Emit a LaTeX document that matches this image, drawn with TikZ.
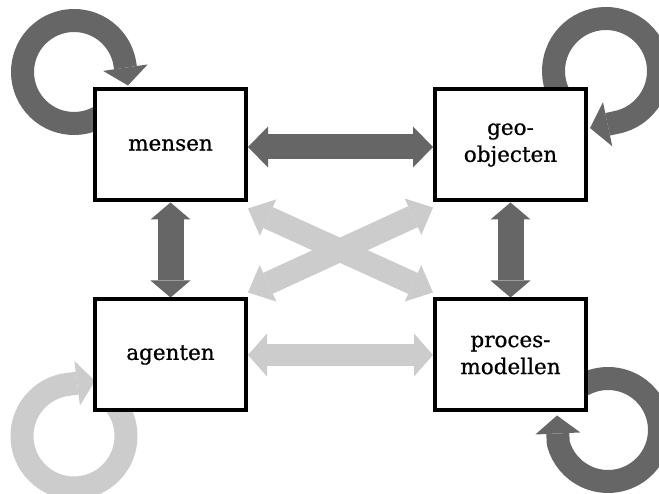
\documentclass[tikz,border=0pt]{standalone}
\usepackage{fontspec}
\setmainfont{DejaVu Serif}
\newfontfamily\labelfont{DejaVu Serif}[FakeBold=0.7]
\usetikzlibrary{arrows.meta}
\definecolor{flowdark}{RGB}{102,102,102}
\definecolor{flowlight}{RGB}{204,204,204}

\begin{document}
\begin{tikzpicture}[x=1pt,y=1pt,
  entity/.style={draw=black, line width=4pt, fill=white,
    minimum width=151pt, minimum height=111pt, inner sep=0pt,
    align=center, font=\labelfont\fontsize{21.5}{27}\selectfont},
  linkdark/.style={draw=flowdark, line width=25pt,
    arrows={Triangle[width=41pt,length=20pt,line width=0pt]-Triangle[width=41pt,length=20pt,line width=0pt]}},
  linkvert/.style={draw=flowdark, line width=26pt,
    arrows={Triangle[width=40pt,length=17pt,line width=0pt]-Triangle[width=40pt,length=17pt,line width=0pt]}},
  linklight/.style={draw=flowlight, line width=22pt,
    arrows={Triangle[width=43pt,length=19pt,line width=0pt]-Triangle[width=43pt,length=19pt,line width=0pt]}},
  linkcross/.style={draw=flowlight, line width=23pt,
    arrows={Triangle[width=40pt,length=22pt,line width=0pt]-Triangle[width=40pt,length=22pt,line width=0pt]}},
  selfloop/.style={draw=#1, line width=23pt, line join=round,
    arrows={-Triangle[width=45pt,length=18pt,line width=0pt]}}
]
\clip (0,0) rectangle (659,494);
\fill[white] (0,0) rectangle (659,494);

% the four entities (positions only; drawn last so they cover the loop ends)
\path (170.5,349) node[entity, fill=none, draw=none] (m) {\phantom{x}}
      (510.5,349) node[entity, fill=none, draw=none] (g) {\phantom{x}}
      (170.5,139) node[entity, fill=none, draw=none] (a) {\phantom{x}}
      (510.5,139) node[entity, fill=none, draw=none] (p) {\phantom{x}};

% centres of the self loops
\coordinate (mc) at (74,422);
\coordinate (gc) at (606,423);
\coordinate (ac) at (74,58);
\coordinate (pc) at (608,64);

% crossing links
\draw[linkcross] ([yshift=-6pt]m.south east) -- ([yshift=5pt]p.north west);
\draw[linkcross] ([yshift=-5pt]g.south west) -- ([yshift=5pt]a.north east);

% self loops
\draw[selfloop=flowdark] ([shift={(-55:51.5)}]mc) arc[start angle=-55, end angle=-352, radius=51.5]
  -- ([xshift=35pt,yshift=2pt]m.north west);
\draw[selfloop=flowdark] ([shift={(210:52.5)}]gc) arc[start angle=210, end angle=-80, radius=52.5]
  -- ([xshift=2pt,yshift=17pt]g.east);
\draw[selfloop=flowlight] ([shift={(45:52)}]ac) arc[start angle=45, end angle=-265, radius=52]
  -- ([xshift=2pt,yshift=-26pt]a.west);
\draw[selfloop=flowdark] ([shift={(125:51.5)}]pc) arc[start angle=125, end angle=-165, radius=51.5]
  -- ([xshift=124pt,yshift=-3pt]p.south west);

% links between the entities
\draw[linkdark] ([yshift=-2pt]m.east) -- ([yshift=-2pt]g.west);
\draw[linkvert] (m.south) -- (a.north);
\draw[linkvert] (g.south) -- (p.north);
\draw[linklight] (a.east) -- (p.west);

% the entities
\node[entity] at (m) {mensen};
\node[entity] at (g) {geo-\\objecten};
\node[entity] at (a) {agenten};
\node[entity] at (p) {proces-\\modellen};
\end{tikzpicture}
\end{document}
